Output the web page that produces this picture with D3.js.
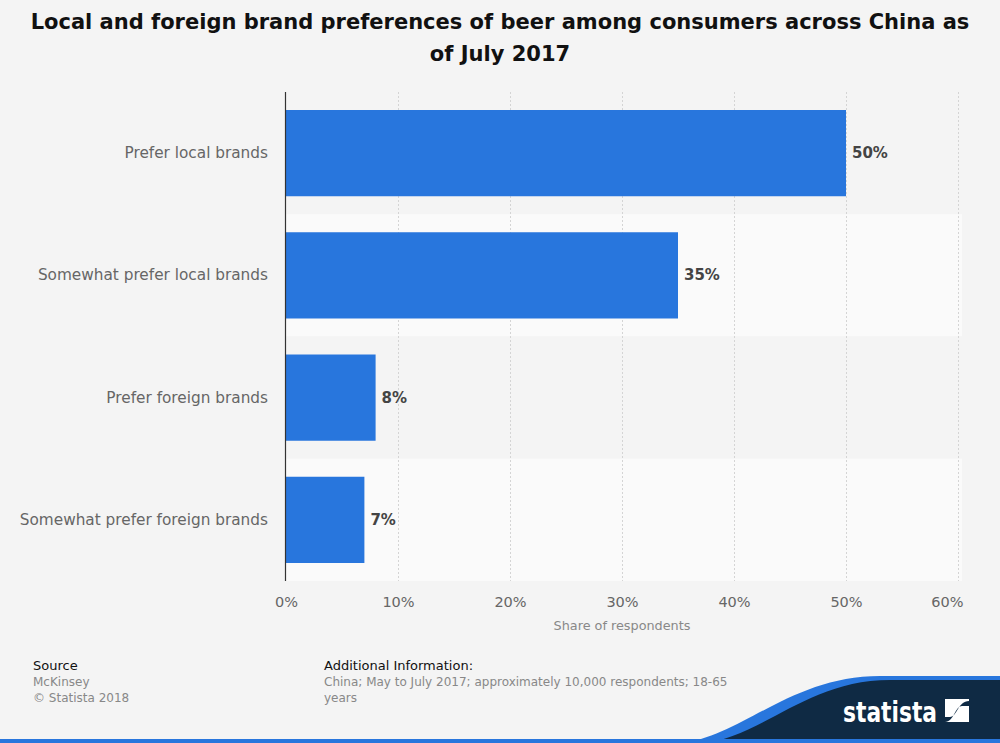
<!DOCTYPE html>
<html>
<head>
<meta charset="utf-8">
<script src="https://cdn.jsdelivr.net/npm/d3@7"></script>
<style>
  html, body { margin: 0; padding: 0; background: #f4f4f4; }
  svg { display: block; }
</style>
</head>
<body>
<svg id="chart" width="1000" height="743"></svg>
<script>
const categories = ["Prefer local brands", "Somewhat prefer local brands", "Prefer foreign brands", "Somewhat prefer foreign brands"];
const values = [50, 35, 8, 7];
const tickValues = [0, 10, 20, 30, 40, 50, 60];
const titleLines = ["Local and foreign brand preferences of beer among consumers across China as", "of July 2017"];
const axisTitle = "Share of respondents";

const svg = d3.select("#chart");
const W = 1000, H = 743;
const m = { left: 286, right: 958, top: 92, bottom: 581 };
const font = "'DejaVu Sans', sans-serif";

svg.append("rect").attr("width", W).attr("height", H).attr("fill", "#f4f4f4");

// Title
svg.append("g").selectAll("text").data(titleLines).join("text")
  .attr("x", 500).attr("y", (d, i) => 29 + i * 32)
  .attr("text-anchor", "middle")
  .attr("font-family", font).attr("font-weight", "bold").attr("font-size", 21)
  .attr("fill", "#111").text(d => d);

const x = d3.scaleLinear().domain([0, 60]).range([m.left, m.right]);
const y = d3.scaleBand().domain(categories).range([m.top, m.bottom]).paddingInner(0).paddingOuter(0);

// Alternating bands
svg.append("g").selectAll("rect").data(categories).join("rect")
  .attr("x", m.left).attr("width", 962 - m.left)
  .attr("y", d => y(d)).attr("height", y.bandwidth())
  .attr("fill", (d, i) => i % 2 === 0 ? "#f4f4f4" : "#fafafa");

// Gridlines
svg.append("g").selectAll("line").data(tickValues.filter(t => t > 0)).join("line")
  .attr("x1", d => x(d) + 0.5).attr("x2", d => x(d) + 0.5)
  .attr("y1", m.top).attr("y2", m.bottom)
  .attr("stroke", "#d4d4d4").attr("stroke-width", 1).attr("stroke-dasharray", "2,2");

// Bars
const barPad = 18;
svg.append("g").selectAll("rect").data(values).join("rect")
  .attr("x", x(0))
  .attr("y", (d, i) => y(categories[i]) + barPad)
  .attr("width", d => x(d) - x(0))
  .attr("height", y.bandwidth() - 2 * barPad)
  .attr("fill", "#2876dd");

// Value labels
svg.append("g").selectAll("text").data(values).join("text")
  .attr("x", d => x(d) + 6)
  .attr("y", (d, i) => y(categories[i]) + y.bandwidth() / 2 + 5)
  .attr("font-family", font).attr("font-weight", "bold").attr("font-size", 15)
  .attr("fill", "#444").text(d => d + "%");

// Y axis line
svg.append("line").attr("x1", m.left - 0.5).attr("x2", m.left - 0.5)
  .attr("y1", m.top).attr("y2", m.bottom).attr("stroke", "#333").attr("stroke-width", 1.2);

// Category labels
svg.append("g").selectAll("text").data(categories).join("text")
  .attr("x", 268).attr("y", d => y(d) + y.bandwidth() / 2 + 5)
  .attr("text-anchor", "end")
  .attr("font-family", font).attr("font-size", 15.3)
  .attr("fill", "#666").text(d => d);

// X axis
const xAxis = d3.axisBottom(x).tickValues(tickValues).tickFormat(d => d + "%").tickSize(0).tickPadding(0);
const gx = svg.append("g").attr("transform", `translate(0,${m.bottom})`).call(xAxis);
gx.select(".domain").remove();
gx.selectAll("text").attr("dy", null).attr("y", 26)
  .attr("font-family", font).attr("font-size", 14.5).attr("fill", "#666");
// last label justified inside the chart
gx.selectAll("text").filter(d => d === 60).attr("text-anchor", "end").attr("x", 963 - x(60));

svg.append("text").attr("x", 622).attr("y", 630).attr("text-anchor", "middle")
  .attr("font-family", font).attr("font-size", 12.8).attr("fill", "#888").text(axisTitle);

// Footer
svg.append("text").attr("x", 33).attr("y", 670).attr("font-family", font).attr("font-size", 13).attr("fill", "#111").text("Source");
svg.append("text").attr("x", 33).attr("y", 686).attr("font-family", font).attr("font-size", 12).attr("fill", "#888").text("McKinsey");
svg.append("text").attr("x", 33).attr("y", 702).attr("font-family", font).attr("font-size", 12).attr("fill", "#888").text("© Statista 2018");
svg.append("text").attr("x", 324).attr("y", 670).attr("font-family", font).attr("font-size", 13).attr("fill", "#111").text("Additional Information:");
svg.append("text").attr("x", 324).attr("y", 686).attr("font-family", font).attr("font-size", 12).attr("fill", "#888").text("China; May to July 2017; approximately 10,000 respondents; 18-65");
svg.append("text").attr("x", 324).attr("y", 702).attr("font-family", font).attr("font-size", 12).attr("fill", "#888").text("years");

// Logo shape
svg.append("path")
  .attr("d", "M680,743 C740,738 790,676 880,676 L1000,676 L1000,743 Z")
  .attr("fill", "#2876dd");
svg.append("path")
  .attr("d", "M700,743 C760,740 805,680 890,680 L1000,680 L1000,743 Z")
  .attr("fill", "#0f2a44");
svg.append("rect").attr("x", 0).attr("y", 739).attr("width", 1000).attr("height", 4).attr("fill", "#2876dd");
svg.append("text").attr("x", 843).attr("y", 722)
  .attr("font-family", "'DejaVu Sans Condensed', 'DejaVu Sans', sans-serif")
  .attr("font-weight", "bold").attr("font-size", 28).attr("fill", "#fff")
  .attr("textLength", 94).attr("lengthAdjust", "spacingAndGlyphs").text("statista");
const lg = svg.append("g").attr("transform", "translate(945,699)");
lg.append("rect").attr("width", 24).attr("height", 23).attr("fill", "#fff");
lg.append("path").attr("d", "M0,23 C9,23 10,7 17,7 L24,7 L24,2 C13,2 12,18 5,18 L0,18 Z").attr("fill", "#0f2a44");
</script>
</body>
</html>
